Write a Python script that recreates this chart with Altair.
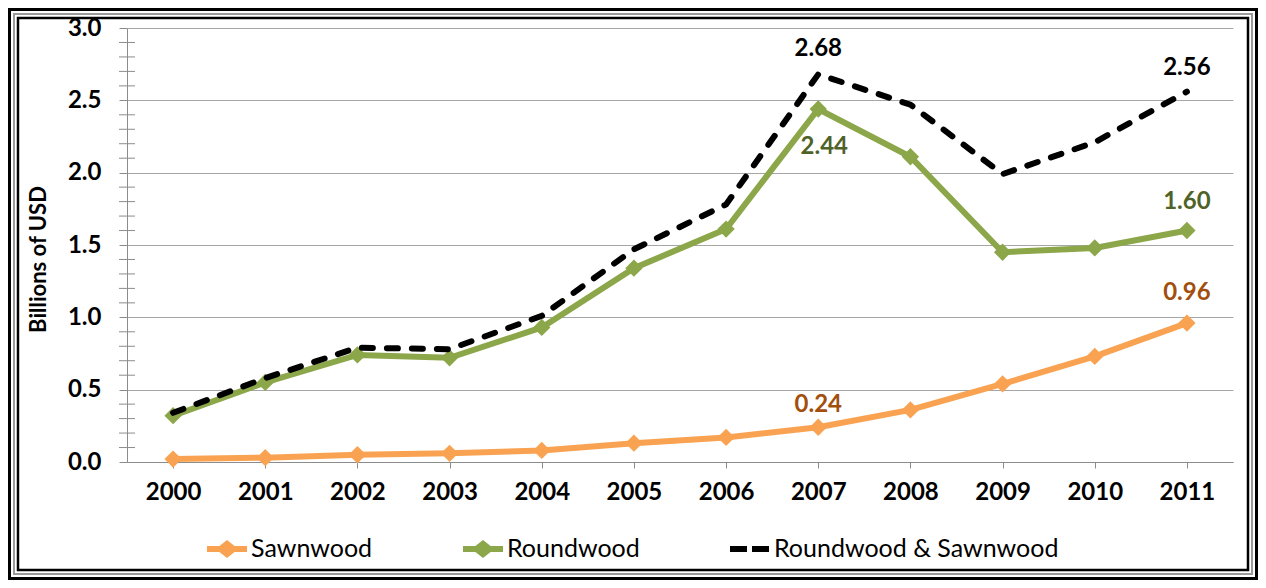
import altair as alt
import pandas as pd

# ---------------- data ----------------
years = ["2000", "2001", "2002", "2003", "2004", "2005",
         "2006", "2007", "2008", "2009", "2010", "2011"]
sawnwood = [0.02, 0.03, 0.05, 0.06, 0.08, 0.13, 0.17, 0.24, 0.36, 0.54, 0.73, 0.96]
roundwood = [0.32, 0.55, 0.74, 0.72, 0.93, 1.34, 1.61, 2.44, 2.11, 1.45, 1.48, 1.60]
total = [0.34, 0.58, 0.79, 0.78, 1.01, 1.47, 1.78, 2.68, 2.47, 1.99, 2.21, 2.56]
series_names = ["Sawnwood", "Roundwood", "Roundwood & Sawnwood"]
y_ticks = [0.0, 0.5, 1.0, 1.5, 2.0, 2.5, 3.0]
minor_ticks = [0.1, 0.2, 0.3, 0.4, 0.6, 0.7, 0.8, 0.9, 1.1, 1.2, 1.3, 1.4,
               1.6, 1.7, 1.8, 1.9, 2.1, 2.2, 2.3, 2.4, 2.6, 2.7, 2.8, 2.9]

rows = []
for name, vals in zip(series_names, [sawnwood, roundwood, total]):
    for yr, v in zip(years, vals):
        rows.append({"series": name, "year": yr, "value": v})
df = pd.DataFrame(rows)
minor_df = pd.DataFrame({"v": minor_ticks})
frame_df = pd.DataFrame({"k": [0]})

# ---------------- style ----------------
FONT = "Lato"
ORANGE = "#F9A352"
GREEN = "#8CA64A"
GREEN_TXT = "#4F6228"
BROWN_TXT = "#A24F0E"
GRID = "#A6A6A6"
AXIS = "#8C8C8C"

W, H = 1106, 434
PL, PT, PR, PB = 119, 20, 25, 118

X = alt.X(
    "year:O",
    sort=years,
    scale=alt.Scale(type="point", padding=0.5),
    axis=alt.Axis(
        title=None, labelAngle=0, labelFont=FONT, labelFontSize=24,
        labelFontWeight="bold", labelColor="black", tickColor=AXIS,
        tickSize=6, domainColor=AXIS, labelPadding=12, grid=False,
    ),
)
Y_AXIS = alt.Axis(
    values=y_ticks, format=".1f", grid=True, gridColor=GRID,
    domainColor=AXIS, tickColor=AXIS, tickSize=8, labelPadding=18,
    labelFont=FONT, labelFontSize=24, labelFontWeight="bold",
    labelColor="black", title="Billions of USD", titleFont=FONT,
    titleFontSize=22, titleFontWeight="bold", titleColor="black",
    titlePadding=17, titleY=H / 2 + 14,
)
Y_SCALE = alt.Scale(domain=[0, 3], nice=False)


def Yf(field="value:Q"):
    return alt.Y(field, scale=Y_SCALE, axis=Y_AXIS)


base = alt.Chart(df)

# outer decorative frame (three lines)
frame = alt.layer(
    alt.Chart(frame_df).mark_rect(filled=False, stroke="black", strokeWidth=3).encode(
        x=alt.value(-PL + 1.5), x2=alt.value(W + PR - 1.5),
        y=alt.value(-PT + 1.5), y2=alt.value(H + PB - 1.5)),
    alt.Chart(frame_df).mark_rect(filled=False, stroke="#9A9A9A", strokeWidth=2).encode(
        x=alt.value(-PL + 6), x2=alt.value(W + PR - 6),
        y=alt.value(-PT + 6), y2=alt.value(H + PB - 6)),
    alt.Chart(frame_df).mark_rect(filled=False, stroke="black", strokeWidth=2.5).encode(
        x=alt.value(-PL + 10), x2=alt.value(W + PR - 10),
        y=alt.value(-PT + 10), y2=alt.value(H + PB - 10)),
)

minor = alt.Chart(minor_df).mark_rule(color=AXIS, strokeWidth=1).encode(
    y=Yf("v:Q"), x=alt.value(-8), x2=alt.value(8))


def line(name, color, dash=None):
    kw = dict(color=color, strokeWidth=6)
    if dash:
        kw.update(strokeDash=dash, strokeCap="round")
    return base.transform_filter(alt.datum.series == name).mark_line(**kw).encode(
        x=X, y=Yf())


def pts(name, color):
    return base.transform_filter(alt.datum.series == name).mark_point(
        shape="diamond", filled=True, size=300, color=color, opacity=1).encode(
        x=X, y=Yf())


def label(name, year, color, dx, dy):
    return base.transform_filter(
        (alt.datum.series == name) & (alt.datum.year == year)
    ).mark_text(font=FONT, fontSize=24, fontWeight="bold", color=color,
                dx=dx, dy=dy).encode(
        x=X, y=Yf(), text=alt.Text("value:Q", format=".2f"))


# legend (invisible points carrying the legend)
line_diamond = ("M-1,-0.15 L-0.38,-0.15 L0,-0.45 L0.38,-0.15 L1,-0.15 "
                "L1,0.15 L0.38,0.15 L0,0.45 L-0.38,0.15 L-1,0.15 Z")
two_dashes = ("M-1,-0.15 L-0.15,-0.15 L-0.15,0.15 L-1,0.15 Z "
              "M0.1,-0.15 L0.95,-0.15 L0.95,0.15 L0.1,0.15 Z")
leg = alt.Legend(
    title=None, orient="none", legendX=80, legendY=501, direction="horizontal",
    labelFont=FONT, labelFontSize=25, labelColor="black", labelOffset=4,
    labelLimit=500, columnPadding=90, symbolSize=1600, symbolStrokeWidth=0,
    symbolOpacity=1, padding=0,
)
legend_layer = base.mark_point(filled=True, opacity=0).encode(
    x=X, y=Yf(),
    color=alt.Color("series:N", sort=series_names,
                    scale=alt.Scale(domain=series_names, range=[ORANGE, GREEN, "black"]),
                    legend=leg),
    shape=alt.Shape("series:N", sort=series_names,
                    scale=alt.Scale(domain=series_names,
                                    range=[line_diamond, line_diamond, two_dashes]),
                    legend=leg),
)

chart = alt.layer(
    frame,
    minor,
    line("Sawnwood", ORANGE),
    line("Roundwood", GREEN),
    pts("Sawnwood", ORANGE),
    pts("Roundwood", GREEN),
    line("Roundwood & Sawnwood", "black", dash=[11, 14]),
    legend_layer,
    label("Roundwood & Sawnwood", "2007", "black", 0, -25),
    label("Roundwood & Sawnwood", "2011", "black", 0, -24),
    label("Roundwood", "2007", GREEN_TXT, 6, 38),
    label("Roundwood", "2011", GREEN_TXT, 0, -29),
    label("Sawnwood", "2011", BROWN_TXT, 0, -30),
    label("Sawnwood", "2007", BROWN_TXT, 0, -22),
).properties(
    width=W, height=H,
    autosize=alt.AutoSizeParams(type="none"),
    padding={"left": PL, "top": PT, "right": PR, "bottom": PB},
    background="white",
).configure_view(stroke=None)

chart.save("out.html", embed_options={"renderer": "svg", "actions": False})
